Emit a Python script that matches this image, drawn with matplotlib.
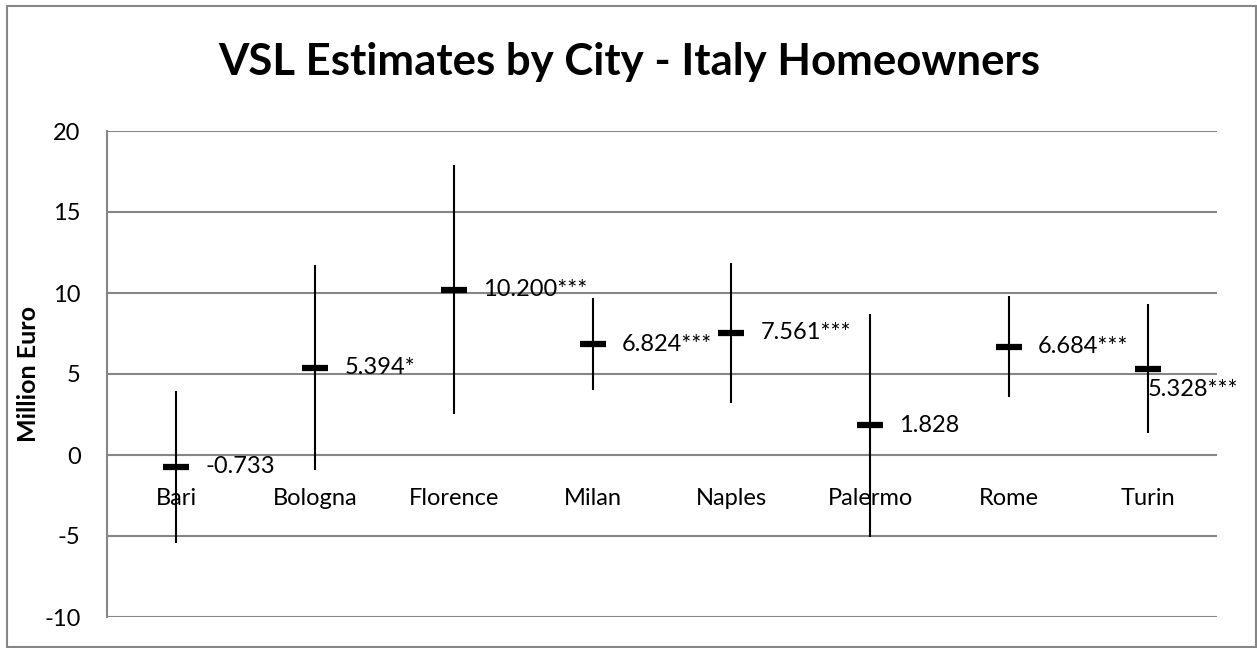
import matplotlib.pyplot as plt
from matplotlib.patches import Rectangle

cities = ["Bari", "Bologna", "Florence", "Milan", "Naples", "Palermo", "Rome", "Turin"]
high = [3.97, 11.73, 17.9, 9.67, 11.87, 8.70, 9.81, 9.32]
low = [-5.45, -0.93, 2.53, 4.01, 3.19, -5.04, 3.56, 1.34]
estimate = [-0.733, 5.394, 10.200, 6.824, 7.561, 1.828, 6.684, 5.328]
labels = ["-0.733", "5.394*", "10.200***", "6.824***", "7.561***", "1.828", "6.684***", "5.328***"]
yticks = [-10, -5, 0, 5, 10, 15, 20]

plt.rcParams["font.family"] = ["Lato", "DejaVu Sans"]
GRID = "#868686"
FS = 17

fig = plt.figure(figsize=(12.57, 6.48), dpi=100)
ax = fig.add_axes([107 / 1257, 31 / 648, 1110 / 1257, 486 / 648])

# outer chart frame
fig.patches.append(Rectangle((7 / 1257, 1 / 648), 1249 / 1257, 641 / 648,
                             transform=fig.transFigure, fill=False,
                             edgecolor=GRID, lw=1.5))

x = list(range(len(cities)))
ax.vlines(x, low, high, color="black", lw=1.5, zorder=3)
ax.plot(x, estimate, ls="none", marker="_", ms=19, mew=4.5, color="black", zorder=4)

for i, (xi, yi, lab) in enumerate(zip(x, estimate, labels)):
    if cities[i] == "Turin":
        # Excel pushed this one below the marker
        ax.annotate(lab, (xi, yi), xytext=(0, -15), textcoords="offset points",
                    ha="left", va="center", fontsize=FS)
    else:
        ax.annotate(lab, (xi, yi), xytext=(21, 0), textcoords="offset points",
                    ha="left", va="center", fontsize=FS)

ax.set_xlim(-0.5, len(cities) - 0.5)
ax.set_ylim(-10, 20)

# category axis crosses at zero
ax.spines["bottom"].set_position(("data", 0))
ax.spines["bottom"].set_visible(False)
for side in ("top", "right"):
    ax.spines[side].set_visible(False)
ax.spines["left"].set_color(GRID)
ax.spines["left"].set_linewidth(1.5)

ax.set_xticks(x)
ax.set_xticklabels(cities)
ax.set_yticks(yticks)
ax.set_yticklabels([str(t) for t in yticks])
ax.tick_params(axis="x", length=0, pad=24, labelsize=FS)
ax.tick_params(axis="y", length=0, pad=19, labelsize=FS)
ax.yaxis.grid(True, color=GRID, lw=1.5)
ax.set_axisbelow(True)

fig.text(28 / 1257, 1 - 374 / 648, "Million Euro", rotation=90,
         ha="center", va="center", fontsize=18, fontweight="bold")
fig.text(629 / 1257, 1 - 62 / 648, "VSL Estimates by City - Italy Homeowners",
         ha="center", va="center", fontsize=31.5, fontweight="bold")

fig.savefig("out.png", dpi=100)
